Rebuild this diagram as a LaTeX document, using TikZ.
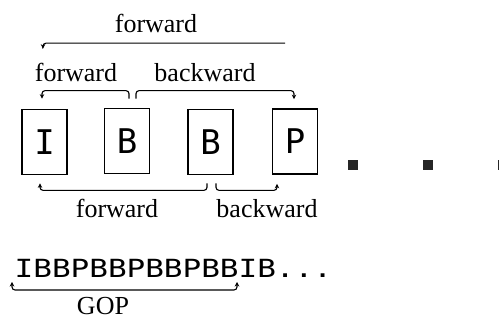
\documentclass[tikz,border=0pt]{standalone}
\usepackage{fontspec}
\setmainfont{Liberation Serif}
\newfontfamily\boxfont{DejaVu Sans Mono}
\newfontfamily\seqfont[FakeStretch=1.24]{DejaVu Sans Mono}
\usetikzlibrary{arrows.meta}

\begin{document}
\begin{tikzpicture}[x=1pt,y=-1pt,
  frame/.style={draw, line width=1.7pt, minimum width=45pt, minimum height=65pt,
    inner sep=0pt, font=\boxfont\fontsize{34}{34}\selectfont},
  link/.style={line width=1.1pt, rounded corners=3pt,
    -{Stealth[length=4.5pt,width=4.5pt]}},
  lbl/.style={font=\fontsize{26}{26}\selectfont, inner sep=0pt, anchor=base},
  dot/.style={fill=black!85, minimum size=10pt, inner sep=0pt}]

  \useasboundingbox (0,0) rectangle (499,320);

  % frames of the sequence
  \node[frame] (I)  at (44.5,142) {I};
  \node[frame] (B1) at (127,141)  {B};
  \node[frame] (B2) at (210.5,142){B};
  \node[frame] (P)  at (295,141.5){P};

  % continuation marks
  \node[dot] (d1) at (353,165) {};
  \node[dot] (d2) at (428,165) {};
  \node[dot] (d3) at (503,165) {};

  % prediction brackets above the frames
  \draw[link] ([shift={(-10,-65)}]P.north) -| ([shift={(-1.5,-60)}]I.north);
  \draw[link] ([shift={(2,-9)}]B1.north) -- ++(0,-8) -| ([shift={(-2.5,-10)}]I.north);
  \draw[link] ([shift={(9,-9)}]B1.north) -- ++(0,-8) -| ([shift={(-1,-9)}]P.north);

  % prediction brackets below the frames
  \draw[link] ([shift={(-3.5,8)}]B2.south) -- ++(0,7) -| ([shift={(-4.5,8)}]I.south);
  \draw[link] ([shift={(5.5,8)}]B2.south) -- ++(0,7) -| ([shift={(-18,9)}]P.south);

  % bracket labels
  \node[lbl] (ftop) at (156,33)  {forward};
  \node[lbl] (f2)   at (76,82)   {forward};
  \node[lbl] (b2)   at (205,82)  {backward};
  \node[lbl] (f3)   at (117,218) {forward};
  \node[lbl] (b3)   at (267,218) {backward};

  % group of pictures
  \node[anchor=base west, inner sep=0pt, font=\seqfont\fontsize{25}{25}\selectfont]
    (seq) at (14.5,278) {IBBPBBPBBPBBIB...};
  \draw[line width=1.1pt, rounded corners=3pt,
    {Stealth[length=4.5pt,width=4.5pt]}-{Stealth[length=4.5pt,width=4.5pt]}]
    ([shift={(-2.5,4)}]seq.base west) |- ([shift={(110,12)}]seq.base west)
    -| ([shift={(222.5,4)}]seq.base west);
  \node[lbl] (gop) at (103,315) {GOP};
\end{tikzpicture}
\end{document}
